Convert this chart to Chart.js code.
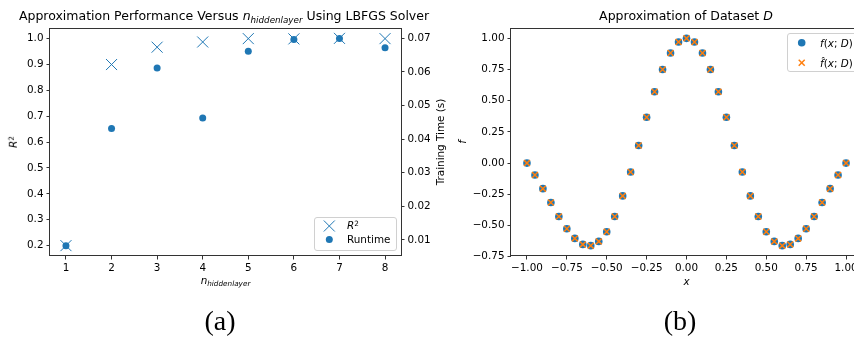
<!DOCTYPE html>
<html><head><meta charset="utf-8">
<script src="https://cdn.jsdelivr.net/npm/chart.js@4"></script>
<style>
html,body{margin:0;padding:0;background:#fff;width:854px;height:341px;overflow:hidden;position:relative;font-family:"DejaVu Sans",sans-serif;color:#000}
canvas{position:absolute;top:0}
#c1{left:0;z-index:1}
#c2{left:440px;z-index:2}
.t{position:absolute;white-space:nowrap;line-height:1;z-index:5}
.lt{z-index:8}
.cx{transform:translateX(-50%)}
.rot{transform:translate(-50%,-50%) rotate(-90deg)}
sub{font-size:70%;vertical-align:-0.3em;line-height:0}
sup{font-size:70%;vertical-align:0.45em;line-height:0}
.leg{position:absolute;border:1px solid #d0d0d0;border-radius:3px;background:rgba(255,255,255,0.8);z-index:6;box-sizing:border-box}
.legsvg{position:absolute;left:0;top:0;z-index:7;overflow:visible}
.cap{font-family:"Liberation Serif",serif;font-size:28px}
</style>
</head><body>
<canvas id="c1" width="440" height="341"></canvas>
<canvas id="c2" width="440" height="341"></canvas>

<div class="t cx" style="left:224px;top:10px;font-size:12.5px">Approximation Performance Versus <i>n</i><sub><i>hiddenlayer</i></sub> Using LBFGS Solver</div>
<div class="t cx" style="left:686px;top:10px;font-size:12.5px">Approximation of Dataset <i>D</i></div>

<div class="t cx" style="left:225.5px;top:274.5px;font-size:10.4px"><i>n</i><sub><i>hiddenlayer</i></sub></div>
<div class="t cx" style="left:686.5px;top:276px;font-size:10.4px"><i>x</i></div>

<div class="t rot" style="left:13px;top:142px;font-size:10.4px"><i>R</i><sup>2</sup></div>
<div class="t rot" style="left:440px;top:142px;font-size:10.4px">Training Time (s)</div>
<div class="t rot" style="left:462px;top:142px;font-size:10.4px"><i>f</i></div>

<div class="leg" style="left:314px;top:217px;width:83px;height:34px"></div>
<div class="t lt" style="left:347px;top:220px;font-size:10.4px"><i>R</i><sup>2</sup></div>
<div class="t lt" style="left:347px;top:234px;font-size:10.4px">Runtime</div>

<div class="leg" style="left:787px;top:33px;width:80px;height:39px"></div>
<div class="t lt" style="left:820px;top:37.5px;font-size:10.4px"><i>f</i>(<i>x</i>; <i>D</i>)</div>
<div class="t lt" style="left:820px;top:57.5px;font-size:10.4px"><i>f&#770;</i>(<i>x</i>; <i>D</i>)</div>

<svg class="legsvg" width="854" height="341">
  <g stroke="#1f77b4" stroke-width="1">
    <line x1="323.8" y1="220.5" x2="334.8" y2="231.5"/>
    <line x1="323.8" y1="231.5" x2="334.8" y2="220.5"/>
  </g>
  <circle cx="329.3" cy="239.5" r="3.5" fill="#1f77b4"/>
  <circle cx="801.7" cy="42.7" r="3.8" fill="#1f77b4"/>
  <g stroke="#ff7f0e" stroke-width="1.5">
    <line x1="798.7" y1="59.7" x2="804.7" y2="65.7"/>
    <line x1="798.7" y1="65.7" x2="804.7" y2="59.7"/>
  </g>
</svg>

<div class="t cx cap" style="left:220px;top:307px">(a)</div>
<div class="t cx cap" style="left:680px;top:307px">(b)</div>

<script>
// ---- data: panel (a) ----
const HIDDEN_LAYERS = [1, 2, 3, 4, 5, 6, 7, 8];
const R2 = [0.200, 0.899, 0.966, 0.986, 0.999, 0.998, 1.000, 0.999];
const RUNTIME = [0.0083, 0.0432, 0.0612, 0.0463, 0.0662, 0.0697, 0.0700, 0.0672];
const N_TICKS = [1, 2, 3, 4, 5, 6, 7, 8];
const N_TICK_LABELS = ['1', '2', '3', '4', '5', '6', '7', '8'];
const R2_TICKS = [0.2, 0.3, 0.4, 0.5, 0.6, 0.7, 0.8, 0.9, 1.0];
const R2_TICK_LABELS = ['0.2', '0.3', '0.4', '0.5', '0.6', '0.7', '0.8', '0.9', '1.0'];
const RUNTIME_TICKS = [0.01, 0.02, 0.03, 0.04, 0.05, 0.06, 0.07];
const RUNTIME_TICK_LABELS = ['0.01', '0.02', '0.03', '0.04', '0.05', '0.06', '0.07'];

// ---- data: panel (b) ----
const X_D = [-1.00, -0.95, -0.90, -0.85, -0.80, -0.75, -0.70, -0.65, -0.60, -0.55, -0.50,
             -0.45, -0.40, -0.35, -0.30, -0.25, -0.20, -0.15, -0.10, -0.05, 0.00,
             0.05, 0.10, 0.15, 0.20, 0.25, 0.30, 0.35, 0.40, 0.45, 0.50,
             0.55, 0.60, 0.65, 0.70, 0.75, 0.80, 0.85, 0.90, 0.95, 1.00];
const F_D = [0.000, -0.096, -0.205, -0.316, -0.428, -0.527, -0.604, -0.652, -0.662, -0.628, -0.551,
             -0.428, -0.263, -0.072, 0.141, 0.367, 0.572, 0.750, 0.883, 0.971, 1.000,
             0.971, 0.883, 0.750, 0.572, 0.367, 0.141, -0.072, -0.263, -0.428, -0.551,
             -0.628, -0.662, -0.652, -0.604, -0.527, -0.428, -0.316, -0.205, -0.096, 0.000];
const F_HAT_D = [0.000, -0.096, -0.205, -0.316, -0.428, -0.527, -0.604, -0.652, -0.662, -0.628, -0.551,
             -0.428, -0.263, -0.072, 0.141, 0.367, 0.572, 0.750, 0.883, 0.971, 1.000,
             0.971, 0.883, 0.750, 0.572, 0.367, 0.141, -0.072, -0.263, -0.428, -0.551,
             -0.628, -0.662, -0.652, -0.604, -0.527, -0.428, -0.316, -0.205, -0.096, 0.000];
const X_TICKS = [-1.00, -0.75, -0.50, -0.25, 0.00, 0.25, 0.50, 0.75, 1.00];
const X_TICK_LABELS = ['\u22121.00', '\u22120.75', '\u22120.50', '\u22120.25', '0.00', '0.25', '0.50', '0.75', '1.00'];
const F_TICKS = [-0.75, -0.50, -0.25, 0.00, 0.25, 0.50, 0.75, 1.00];
const F_TICK_LABELS = ['\u22120.75', '\u22120.50', '\u22120.25', '0.00', '0.25', '0.50', '0.75', '1.00'];

const BLUE = '#1f77b4', ORANGE = '#ff7f0e';
const TICK_FONT = {family: 'DejaVu Sans', size: 10.4};

const frame = {
  id: 'frame',
  afterDraw(chart) {
    const {ctx, chartArea: a} = chart;
    ctx.save();
    ctx.strokeStyle = '#333';
    ctx.lineWidth = 1;
    ctx.strokeRect(Math.round(a.left) - 0.5, Math.round(a.top) + 0.5,
                   Math.round(a.right) - Math.round(a.left) + 1, Math.round(a.bottom) - Math.round(a.top) - 1);
    ctx.restore();
  }
};

function axis(opts) {
  const {min, max, ticks, labels, position, size, horizontal} = opts;
  return {
    type: 'linear', position, min, max,
    afterBuildTicks: s => { s.ticks = ticks.map(v => ({value: v})); },
    afterFit: s => {
      if (horizontal) { s.height = size; } else { s.width = size; }
      s.paddingLeft = 0; s.paddingRight = 0; s.paddingTop = 0; s.paddingBottom = 0;
    },
    ticks: {
      callback: (v, i) => labels[i], font: TICK_FONT, color: '#000', padding: 3,
      maxRotation: 0, minRotation: 0, autoSkip: false
    },
    grid: {display: true, drawOnChartArea: false, drawTicks: true, tickLength: 3.5, color: '#333', lineWidth: 1},
    border: {display: false}
  };
}

const common = {
  responsive: false, animation: false, devicePixelRatio: 1,
  plugins: {legend: {display: false}, tooltip: {enabled: false}, title: {display: false}},
  events: []
};

new Chart(document.getElementById('c1'), {
  type: 'scatter',
  data: {datasets: [
    {label: 'R²', data: HIDDEN_LAYERS.map((n, i) => ({x: n, y: R2[i]})), yAxisID: 'y',
     pointStyle: 'crossRot', pointRadius: 7.8, pointHoverRadius: 7.8,
     borderColor: BLUE, backgroundColor: BLUE, pointBorderWidth: 1, borderWidth: 1, order: 1},
    {label: 'Runtime', data: HIDDEN_LAYERS.map((n, i) => ({x: n, y: RUNTIME[i]})), yAxisID: 'y1',
     pointStyle: 'circle', pointRadius: 3.5, pointHoverRadius: 3.5,
     borderColor: BLUE, backgroundColor: BLUE, pointBorderWidth: 0, borderWidth: 0, order: 0}
  ]},
  options: Object.assign({}, common, {
    layout: {padding: {left: 0, right: 10, top: 28, bottom: 65}, autoPadding: false},
    scales: {
      x: axis({min: 0.65, max: 8.35, ticks: N_TICKS, labels: N_TICK_LABELS, position: 'bottom', size: 20, horizontal: true}),
      y: axis({min: 0.16, max: 1.04, ticks: R2_TICKS, labels: R2_TICK_LABELS, position: 'left', size: 50}),
      y1: axis({min: 0.00522, max: 0.07309, ticks: RUNTIME_TICKS, labels: RUNTIME_TICK_LABELS, position: 'right', size: 29})
    }
  }),
  plugins: [frame]
});

new Chart(document.getElementById('c2'), {
  type: 'scatter',
  data: {datasets: [
    {label: 'f(x;D)', data: X_D.map((x, i) => ({x, y: F_D[i]})),
     pointStyle: 'circle', pointRadius: 3.8, pointHoverRadius: 3.8,
     borderColor: BLUE, backgroundColor: BLUE, pointBorderWidth: 0, borderWidth: 0, order: 1},
    {label: 'f̂(x;D)', data: X_D.map((x, i) => ({x, y: F_HAT_D[i]})),
     pointStyle: 'crossRot', pointRadius: 4.2, pointHoverRadius: 4.2,
     borderColor: ORANGE, backgroundColor: ORANGE, pointBorderWidth: 1.5, borderWidth: 1.5, order: 0}
  ]},
  options: Object.assign({}, common, {
    layout: {padding: {left: 0, right: 18, top: 28, bottom: 65}, autoPadding: false},
    scales: {
      x: axis({min: -1.1, max: 1.1, ticks: X_TICKS, labels: X_TICK_LABELS, position: 'bottom', size: 20, horizontal: true}),
      y: axis({min: -0.745, max: 1.083, ticks: F_TICKS, labels: F_TICK_LABELS, position: 'left', size: 71})
    }
  }),
  plugins: [frame]
});
</script>
</body></html>
